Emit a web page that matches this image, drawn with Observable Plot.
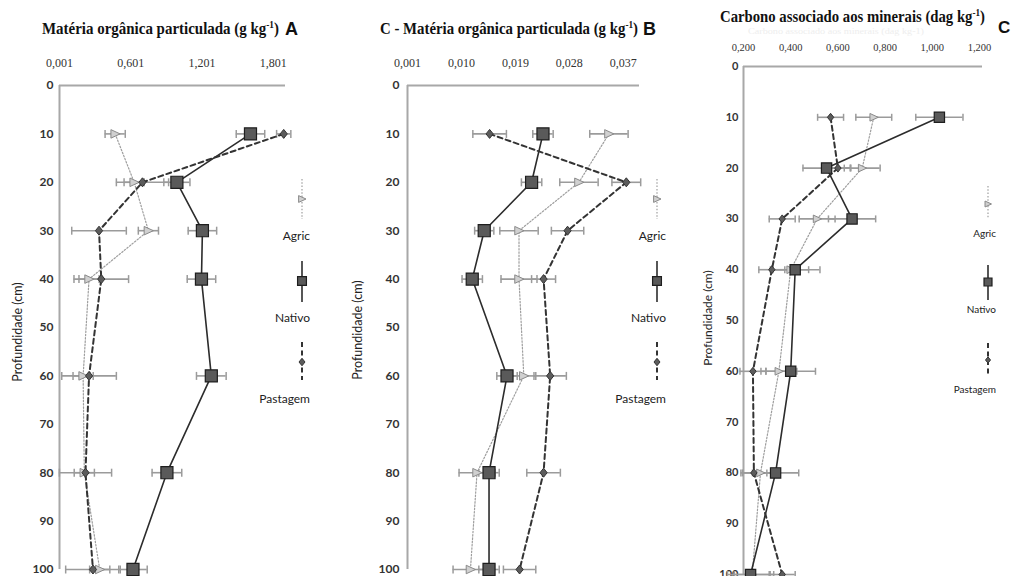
<!DOCTYPE html>
<html><head><meta charset="utf-8">
<script src="https://cdn.jsdelivr.net/npm/d3@7"></script>
<script src="https://cdn.jsdelivr.net/npm/@observablehq/plot@0.6"></script>
<style>
body{margin:0;background:#fff;}
#wrap{position:relative;width:1013px;height:576px;overflow:hidden;background:#fff;}
</style></head><body><div id="wrap"></div><script>
// ---------- data ----------
const depths = [10, 20, 30, 40, 60, 80, 100];
const depthTicks = [0, 10, 20, 30, 40, 50, 60, 70, 80, 90, 100];
const series = ["Agric", "Nativo", "Pastagem"];

// Panel A: Matéria orgânica particulada (g kg-1)
const aTicks = [0.001, 0.601, 1.201, 1.801];
const aAgric = [0.47, 0.63, 0.75, 0.25, 0.20, 0.21, 0.34];
const aAgricErr = [0.085, 0.085, 0.085, 0.085, 0.085, 0.085, 0.085];
const aNativo = [1.61, 0.99, 1.205, 1.197, 1.28, 0.906, 0.62];
const aNativoErr = [0.12, 0.11, 0.12, 0.12, 0.125, 0.125, 0.12];
const aPastagem = [1.89, 0.70, 0.334, 0.353, 0.25, 0.22, 0.283];
const aPastagemErr = [0.06, 0.22, 0.23, 0.23, 0.23, 0.22, 0.23];

// Panel B: C - Matéria orgânica particulada (g kg-1)
const bTicks = [0.001, 0.010, 0.019, 0.028, 0.037];
const bAgric = [0.0346, 0.0296, 0.0196, 0.0196, 0.0204, 0.0126, 0.0115];
const bAgricErr = [0.0032, 0.0032, 0.0032, 0.0030, 0.0020, 0.0030, 0.0029];
const bNativo = [0.0236, 0.0217, 0.0138, 0.0118, 0.0176, 0.0146, 0.0146];
const bNativoErr = [0.0017, 0.0017, 0.0016, 0.0017, 0.0017, 0.0017, 0.0017];
const bPastagem = [0.0147, 0.0375, 0.0277, 0.0237, 0.0248, 0.0237, 0.0197];
const bPastagemErr = [0.0028, 0.0024, 0.0027, 0.0020, 0.0027, 0.0028, 0.0027];

// Panel C: Carbono associado aos minerais (dag kg-1)
const cTicks = [0.2, 0.4, 0.6, 0.8, 1.0, 1.2];
const cAgric = [0.752, 0.703, 0.512, 0.40, 0.35, 0.272, 0.237];
const cAgricErr = [0.076, 0.076, 0.076, 0.076, 0.076, 0.076, 0.076];
const cNativo = [1.03, 0.552, 0.66, 0.419, 0.40, 0.336, 0.23];
const cNativoErr = [0.10, 0.10, 0.10, 0.105, 0.105, 0.098, 0.098];
const cPastagem = [0.569, 0.60, 0.364, 0.32, 0.24, 0.244, 0.364];
const cPastagemErr = [0.055, 0.055, 0.055, 0.055, 0.055, 0.055, 0.055];

// ---------- styles ----------
const vbar = {draw(ctx, size){const r = Math.sqrt(size/Math.PI); ctx.moveTo(0,-r); ctx.lineTo(0,r);}};
const tri = {draw(ctx, size){const r = Math.sqrt(size/Math.PI); ctx.moveTo(r,0); ctx.lineTo(-r*0.85,-r*0.85); ctx.lineTo(-r*0.85,r*0.85); ctx.closePath();}};
const dia = {draw(ctx, size){const r = Math.sqrt(size/Math.PI); ctx.moveTo(0,-r*1.25); ctx.lineTo(r,0); ctx.lineTo(0,r*1.25); ctx.lineTo(-r,0); ctx.closePath();}};
const styles = {
  Agric: {line:{stroke:"#9e9e9e", strokeWidth:1.2, strokeDasharray:"1.5,1.8"},
          dot:{symbol:tri, fill:"#d0d0d0", stroke:"#8a8a8a", strokeWidth:1}},
  Nativo: {line:{stroke:"#2c2c2c", strokeWidth:1.6},
          dot:{symbol:"square", fill:"#5a5a5a", stroke:"#1e1e1e", strokeWidth:1.2}, d3sym: d3.symbolSquare},
  Pastagem: {line:{stroke:"#333", strokeWidth:2, strokeDasharray:"5,3.5"},
          dot:{symbol:dia, fill:"#5c5c5c", stroke:"#333", strokeWidth:1}}
};
styles.Agric.d3sym = tri; styles.Pastagem.d3sym = dia;
const fmt = d => d.toFixed(3).replace(".", ",");
const wrap = document.getElementById("wrap");

function makePanel(p){
  const rows = [];
  for (const s of series) p.vals[s].forEach((v,i) => rows.push({s, depth: depths[i], v, e: p.errs[s][i]}));
  const marks = [
    Plot.ruleY([0], {stroke:"#a8a8a8", strokeWidth:2}),
    Plot.ruleX([p.domain[0]], {stroke:"#a8a8a8", strokeWidth:2}),
    Plot.axisX({anchor:"top", ticks:p.ticks, tickSize:0, tickPadding:p.xPad, tickFormat:fmt,
      fontSize:p.xFont, fontFamily:"Liberation Serif", fill:"#333", label:null}),
    Plot.axisY({ticks:depthTicks, tickSize:0, tickPadding:p.yPad, fontSize:p.yFont,
      fontFamily:"Lato", fontWeight:"bold", fill:"#333", label:null}),
    Plot.ruleY(rows, {y:"depth", x1:d=>d.v-d.e, x2:d=>d.v+d.e, stroke:"#9b9b9b", strokeWidth:1.6}),
    Plot.dot(rows, {x:d=>d.v-d.e, y:"depth", symbol:vbar, r:p.cap, stroke:"#9b9b9b", strokeWidth:1.5}),
    Plot.dot(rows, {x:d=>d.v+d.e, y:"depth", symbol:vbar, r:p.cap, stroke:"#9b9b9b", strokeWidth:1.5})
  ];
  for (const s of series) marks.push(Plot.line(rows.filter(d=>d.s===s), {x:"v", y:"depth", ...styles[s].line}));
  for (const s of ["Agric","Pastagem","Nativo"]) marks.push(Plot.dot(rows.filter(d=>d.s===s), {x:"v", y:"depth", r:p.r[s], ...styles[s].dot}));
  const svg = Plot.plot({
    width:p.width, height:576,
    marginLeft:p.ml, marginRight:p.mr, marginTop:p.mt, marginBottom:p.mb,
    x:{domain:p.domain}, y:{domain:[0,100], reverse:true},
    style:{background:"transparent", overflow:"visible"},
    marks
  });
  svg.style.position = "absolute"; svg.style.left = p.left + "px"; svg.style.top = "0px";
  wrap.appendChild(svg);
}

makePanel({left:0, width:340, ml:59, mr:55, mt:85, mb:7, domain:[0.001,1.905], ticks:aTicks,
  xPad:19, xFont:12, yPad:6, yFont:12, cap:4, r:{Nativo:6.8, Pastagem:3.6, Agric:5},
  vals:{Agric:aAgric, Nativo:aNativo, Pastagem:aPastagem}, errs:{Agric:aAgricErr, Nativo:aNativoErr, Pastagem:aPastagemErr}});
makePanel({left:340, width:340, ml:67, mr:41, mt:85, mb:7, domain:[0.001,0.0397], ticks:bTicks,
  xPad:19, xFont:12, yPad:8, yFont:12, cap:4, r:{Nativo:6.8, Pastagem:3.6, Agric:5},
  vals:{Agric:bAgric, Nativo:bNativo, Pastagem:bPastagem}, errs:{Agric:bAgricErr, Nativo:bNativoErr, Pastagem:bPastagemErr}});
makePanel({left:680, width:333, ml:63, mr:31, mt:66, mb:2, domain:[0.2,1.2127], ticks:cTicks,
  xPad:16, xFont:10.5, yPad:5, yFont:11, cap:3.5, r:{Nativo:5.8, Pastagem:3.2, Agric:4.5},
  vals:{Agric:cAgric, Nativo:cNativo, Pastagem:cPastagem}, errs:{Agric:cAgricErr, Nativo:cNativoErr, Pastagem:cPastagemErr}});

// ---------- overlay: titles, axis titles, legends ----------
const ov = d3.select(wrap).append("svg").attr("width",1013).attr("height",576)
  .style("position","absolute").style("left","0px").style("top","0px").style("overflow","visible");

function title(x, y, main, size, len, letter, lx, ly, lsize){
  const t = ov.append("text").attr("x",x).attr("y",y).attr("font-family","Liberation Serif")
    .attr("font-weight","bold").attr("font-size",size).attr("fill","#111")
    .attr("textLength",len).attr("lengthAdjust","spacingAndGlyphs");
  t.append("tspan").text(main);
  t.append("tspan").attr("font-size",size*0.62).attr("dy",-size*0.38).text("-1");
  t.append("tspan").attr("dy",size*0.38).text(")");
  ov.append("text").attr("x",lx).attr("y",ly).attr("font-family","Liberation Sans")
    .attr("font-weight","bold").attr("font-size",lsize).attr("fill","#111").text(letter);
}
title(42, 34, "Matéria orgânica particulada (g kg", 16, 237, "A", 285, 35, 18);
title(380, 34, "C - Matéria orgânica particulada (g kg", 16, 258, "B", 643, 35, 18);
ov.append("text").attr("x",748).attr("y",34).attr("font-family","Liberation Serif").attr("font-size",9)
  .attr("fill","#eeeeee").attr("textLength",176).attr("lengthAdjust","spacingAndGlyphs")
  .text("Carbono associado aos minerais (dag kg-1)");
title(720, 22, "Carbono associado aos minerais (dag kg", 17, 265, "C", 998, 33, 17);

function ylab(x, y, size){
  ov.append("text").attr("transform",`translate(${x},${y}) rotate(-90)`).attr("text-anchor","middle")
    .attr("font-family","Lato").attr("font-size",size).attr("fill","#222").text("Profundidade (cm)");
}
ylab(22, 332, 12.5); ylab(362, 330, 12.5); ylab(712, 318, 12);

function legend(cx, rx, items, fsize, rs){
  for (const it of items){
    const st = styles[it.s];
    ov.append("line").attr("x1",cx).attr("x2",cx).attr("y1",it.y1).attr("y2",it.y2)
      .attr("stroke",st.line.stroke).attr("stroke-width",st.line.strokeWidth)
      .attr("stroke-dasharray",st.line.strokeDasharray || null);
    const r = rs[it.s];
    ov.append("path").attr("transform",`translate(${cx},${it.ym})`)
      .attr("d", d3.symbol().type(st.d3sym).size(Math.PI*r*r)())
      .attr("fill",st.dot.fill).attr("stroke",st.dot.stroke).attr("stroke-width",st.dot.strokeWidth);
    ov.append("text").attr("x",rx).attr("y",it.ly).attr("text-anchor","end")
      .attr("font-family","Lato").attr("font-size",fsize).attr("fill","#222").text(it.s);
  }
}
const legAB = [
  {s:"Agric", y1:179, y2:219, ym:199, ly:240},
  {s:"Nativo", y1:261, y2:302, ym:281, ly:322},
  {s:"Pastagem", y1:342, y2:380, ym:362, ly:403}
];
legend(302, 310, legAB, 12, {Agric:4, Nativo:5, Pastagem:3});
legend(657, 666, legAB, 12, {Agric:4, Nativo:5, Pastagem:3});
legend(988, 996, [
  {s:"Agric", y1:186, y2:218, ym:204, ly:237},
  {s:"Nativo", y1:265, y2:300, ym:282, ly:313},
  {s:"Pastagem", y1:343, y2:375, ym:360, ly:393}
], 10, {Agric:3.5, Nativo:4.5, Pastagem:2.5});
</script></body></html>
